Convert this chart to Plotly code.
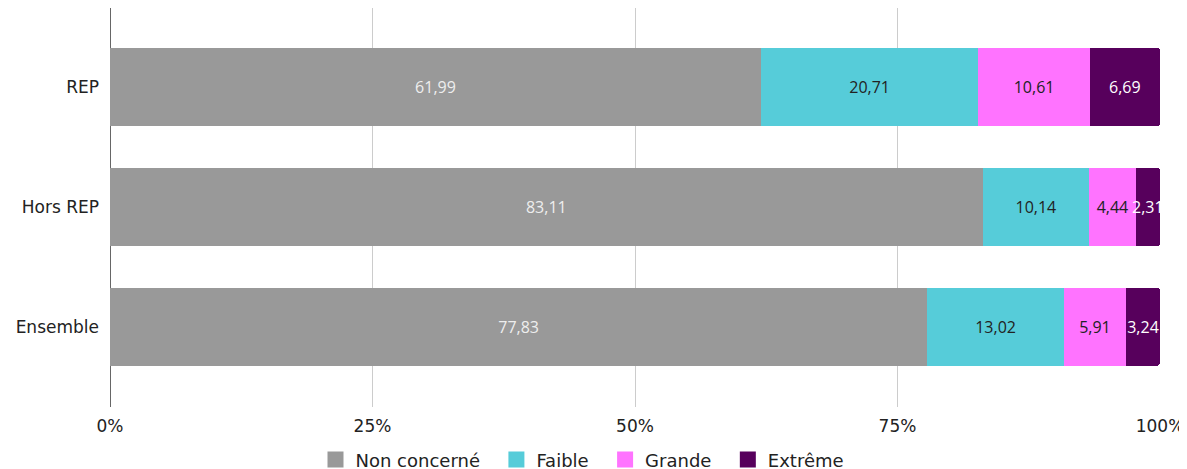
import plotly.graph_objects as go

categories = ["REP", "Hors REP", "Ensemble"]
series_names = ["Non concerné", "Faible", "Grande", "Extrême"]
non_concerne = [61.99, 83.11, 77.83]
faible = [20.71, 10.14, 13.02]
grande = [10.61, 4.44, 5.91]
extreme = [6.69, 2.31, 3.24]
x_ticks = [0, 25, 50, 75, 100]
x_tick_labels = [f"{v}%" for v in x_ticks]

colors = ["#999999", "#56CCD9", "#FF73FF", "#57005C"]
text_colors = ["#EEEEEE", "#222222", "#222222", "#FFFFFF"]
values = [non_concerne, faible, grande, extreme]

AXIS_FONT = "DejaVu Sans, Liberation Sans, Arial, sans-serif"

fig = go.Figure()
for name, vals, col, tcol in zip(series_names, values, colors, text_colors):
    fig.add_trace(go.Bar(
        y=categories, x=vals, name=name, orientation="h",
        marker=dict(color=col, line=dict(width=0)),
        texttemplate="%{x:.2f}", textposition="inside",
        insidetextanchor="middle", textangle=0, constraintext="none",
        textfont=dict(family="Open Sans", size=16, color=tcol),
        hoverinfo="skip", showlegend=False,
    ))
# square legend markers (extra spacing between entries via trailing spaces)
pad = "\u00a0\u00a0"
for i, (name, col) in enumerate(zip(series_names, colors)):
    label = name + (pad if i < len(series_names) - 1 else "")
    fig.add_trace(go.Scatter(
        x=[None], y=[None], mode="markers", name=label,
        marker=dict(symbol="square", size=17, color=col),
        hoverinfo="skip", showlegend=True,
    ))

fig.update_layout(
    barmode="stack",
    bargap=0.35,
    barcornerradius=3,
    width=1179, height=461,
    margin=dict(l=102, r=27, t=0, b=62),
    paper_bgcolor="white", plot_bgcolor="white",
    separators=", ",
    font=dict(family=AXIS_FONT, size=17, color="#222222"),
    xaxis=dict(
        range=[0, 100], tickvals=x_ticks, ticktext=x_tick_labels,
        showgrid=True, gridcolor="#CCCCCC", gridwidth=1,
        zeroline=False, showline=False, ticks="",
        ticklabelstandoff=7,
        tickfont=dict(family=AXIS_FONT, size=17, color="#222222"),
    ),
    yaxis=dict(
        categoryorder="array", categoryarray=categories[::-1],
        range=[-0.67, 2.66], showgrid=False, zeroline=False,
        showline=False, ticks="", ticklabelstandoff=10,
        tickfont=dict(family=AXIS_FONT, size=17, color="#222222"),
    ),
    legend=dict(
        orientation="h", x=0.45, xanchor="center",
        yref="container", y=0.02, yanchor="middle",
        font=dict(family=AXIS_FONT, size=18, color="#222222"),
        traceorder="normal", itemwidth=30,
    ),
    showlegend=True,
)
# dark baseline at 0%
fig.add_shape(type="line", xref="x", yref="paper", x0=0, x1=0, y0=0, y1=1,
              line=dict(color="#333333", width=1.5), layer="below")

fig.write_html("out.html")
